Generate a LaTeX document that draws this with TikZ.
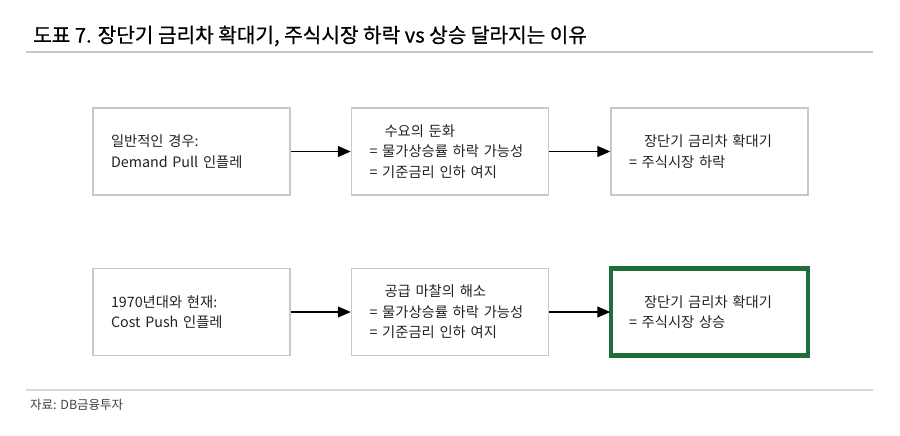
\documentclass[tikz,border=0pt]{standalone}
\usepackage{fontspec}
\setmainfont{Noto Sans CJK KR}
\newfontfamily\titlefont[FakeBold=0.6]{Noto Sans CJK KR}
\usetikzlibrary{positioning,arrows.meta}
\definecolor{boxgray}{RGB}{200,200,200}
\definecolor{rulegray}{RGB}{200,200,200}
\definecolor{dbgreen}{RGB}{30,110,60}
\definecolor{txtgray}{RGB}{34,34,34}
\tikzset{
    flowbox/.style={draw=boxgray, line width=1.5pt, rectangle,
        minimum width=197pt, minimum height=87pt, inner xsep=18pt,
        text width=161pt, align=left, text=txtgray, outer sep=0.75pt,
        font=\fontsize{14.3}{20.5}\selectfont},
    keybox/.style={flowbox, draw=dbgreen, line width=4.5pt},
    flowarrow/.style={line width=1.2pt, -{Triangle[length=13pt,width=11pt]}}
}
\begin{document}
\begin{tikzpicture}[x=1pt, y=-1pt, node distance=60pt and 61pt]
    \useasboundingbox (0,0) rectangle (900,436);
    % ---- title and rules ----
    \node[anchor=west, inner sep=0pt, font=\titlefont\fontsize{20.2}{20.2}\selectfont] (title) at (33,36)
        {도표 7. 장단기 금리차 확대기, 주식시장 하락 vs 상승 달라지는 이유};
    \draw[rulegray, line width=2.5pt] (26,52) -- (873,52);
    \draw[boxgray!70, line width=2pt] (26,390) -- (873,390);
    % ---- upper row ----
    \node[flowbox] (demand) at (191.5,151.5) {일반적인 경우:\\Demand Pull 인플레};
    \node[flowbox, right=60pt of demand] (slow)
        {\hspace*{15pt}수요의 둔화\\= 물가상승률 하락 가능성\\= 기준금리 인하 여지};
    \node[flowbox, right=61pt of slow] (fall)
        {\hspace*{15pt}장단기 금리차 확대기\\= 주식시장 하락};
    % ---- lower row ----
    \node[flowbox, below=72pt of demand] (cost) {1970년대와 현재:\\Cost Push 인플레};
    \node[flowbox, right=60pt of cost] (supply)
        {\hspace*{15pt}공급 마찰의 해소\\= 물가상승률 하락 가능성\\= 기준금리 인하 여지};
    \node[keybox, right=61pt of supply] (rise)
        {\hspace*{15pt}장단기 금리차 확대기\\= 주식시장 상승};
    % ---- arrows ----
    \draw[flowarrow] (demand) -- (slow);
    \draw[flowarrow] (slow) -- (fall);
    \draw[flowarrow] (cost) -- (supply);
    \draw[flowarrow] (supply) -- (rise.west);
    % ---- source ----
    \node[anchor=west, inner sep=0pt, text=black!75, font=\fontsize{12.5}{12.5}\selectfont] (source) at (30,405)
        {자료: DB금융투자};
\end{tikzpicture}
\end{document}
